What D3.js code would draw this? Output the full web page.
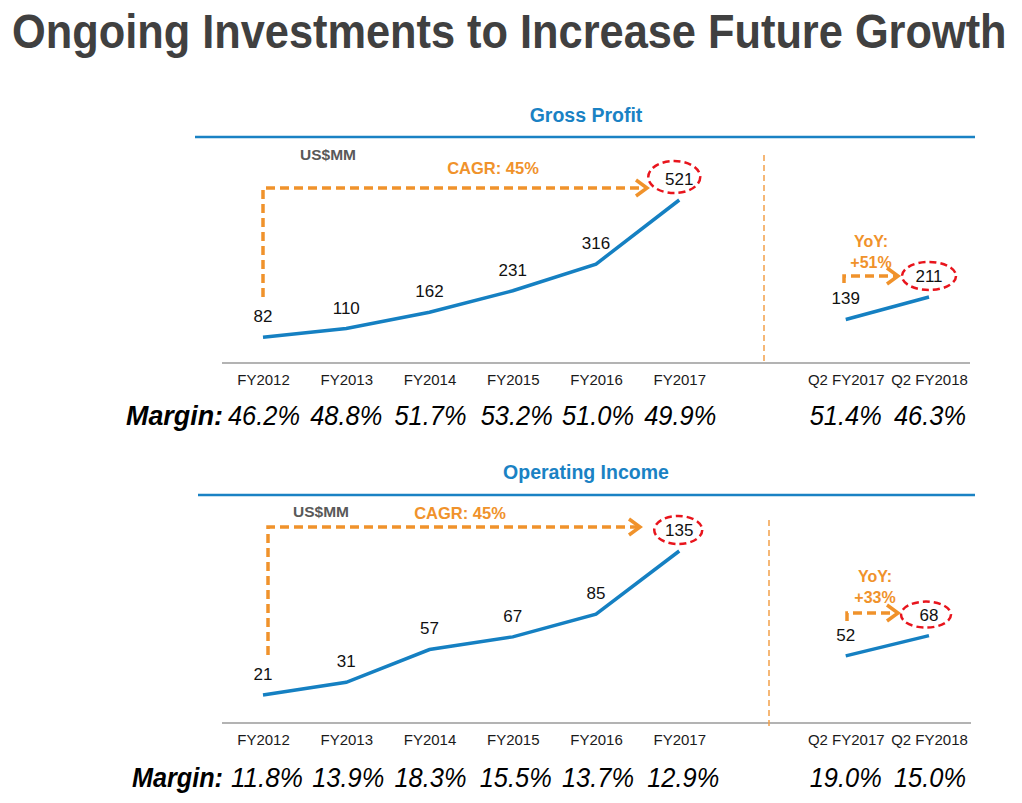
<!DOCTYPE html>
<html>
<head>
<meta charset="utf-8">
<script src="https://cdn.jsdelivr.net/npm/d3@7"></script>
<style>
  html, body { margin: 0; padding: 0; background: #fff; }
  svg { display: block; font-family: "Liberation Sans", Arial, sans-serif; }
</style>
</head>
<body>
<svg id="chart" width="1022" height="803"></svg>
<script>
// ---------- data ----------
const mainTitle = "Ongoing Investments to Increase Future Growth";
const categories = ["FY2012", "FY2013", "FY2014", "FY2015", "FY2016", "FY2017"];
const quarters = ["Q2 FY2017", "Q2 FY2018"];

const grossProfit = [82, 110, 162, 231, 316, 521];
const grossProfitQ = [139, 211];
const grossMargin = [46.2, 48.8, 51.7, 53.2, 51.0, 49.9];
const grossMarginQ = [51.4, 46.3];

const opIncome = [21, 31, 57, 67, 85, 135];
const opIncomeQ = [52, 68];
const opMargin = [11.8, 13.9, 18.3, 15.5, 13.7, 12.9];
const opMarginQ = [19.0, 15.0];

const panelTitles = ["Gross Profit", "Operating Income"];
const cagrLabels = ["CAGR: 45%", "CAGR: 45%"];
const yoyLabels = ["+51%", "+33%"];
const unitLabel = "US$MM";
const marginLabel = "Margin:";

// ---------- layout / style ----------
const BLUE = "#1a82c4";
const LINE_BLUE = "#1580c2";
const ORANGE = "#f0922b";
const RED = "#e8141c";

const panels = [
  {
    title: panelTitles[0], fy: grossProfit, q: grossProfitQ, m: grossMargin, mq: grossMarginQ,
    cagr: cagrLabels[0], yoy: yoyLabels[0],
    titleY: 115, headerY: 137, headerX: [195, 975],
    axisY: 363, axisX: [222, 970],
    yRange: [363, 200],
    sepX: 764, sepY: [155, 362],
    unitPos: [328, 155], cagrTextPos: [493, 168],
    cagrX: 263, cagrYs: [297, 188], cagrEnd: 647,
    ellFY: [-5, -2, 26, 16], ellQ: [0, 0, 27, 14],
    yoyX: 844, yoyYs: [283, 276], yoyEnd: 898, yoyTextPos: [871, 241, 262],
    marginX: 126, marginLen: 97, marginY: 425, mShift: [1, 0, 1, 4, 2, 1, 0, 1]
  },
  {
    title: panelTitles[1], fy: opIncome, q: opIncomeQ, m: opMargin, mq: opMarginQ,
    cagr: cagrLabels[1], yoy: yoyLabels[1],
    titleY: 472, headerY: 495, headerX: [198, 975],
    axisY: 723, axisX: [222, 971],
    yRange: [721.5, 551],
    sepX: 769, sepY: [520, 727],
    unitPos: [321, 512], cagrTextPos: [460, 513],
    cagrX: 268, cagrYs: [655, 527], cagrEnd: 640,
    ellFY: [-1, 0, 24, 14], ellQ: [-3, 0, 25, 13],
    yoyX: 847, yoyYs: [621, 613], yoyEnd: 898, yoyTextPos: [875, 576, 597],
    marginX: 132, marginLen: 91, marginY: 787, mShift: [4, 2, 1, 3, 2, 4, 0, 1]
  }
];

const svg = d3.select("#chart");

// main title (natural text, horizontally condensed to fit)
const titleText = svg.append("text")
  .attr("x", 0).attr("y", 0)
  .attr("font-size", 48).attr("font-weight", "bold")
  .attr("fill", "#404040")
  .text(mainTitle);
const natural = titleText.node().getComputedTextLength();
titleText.attr("transform", `translate(12,48) scale(${995 / natural},1)`);

const x = d3.scalePoint()
  .domain([...categories, "gap", ...quarters])
  .range([263, 929]);

const fmtPct = v => d3.format(".1f")(v) + "%";

function arrowHead(g, xEnd, y) {
  g.append("path")
    .attr("d", `M${xEnd - 11},${y - 8}L${xEnd},${y}L${xEnd - 11},${y + 8}`)
    .attr("fill", "none").attr("stroke", ORANGE)
    .attr("stroke-width", 3.5).attr("stroke-linejoin", "miter");
}

panels.forEach(p => {
  const g = svg.append("g");
  const y = d3.scaleLinear().domain([0, d3.max(p.fy)]).range(p.yRange);

  // panel title + header rule
  g.append("text")
    .attr("x", 586).attr("y", p.titleY).attr("dy", "0.35em")
    .attr("text-anchor", "middle")
    .attr("font-size", 19.5).attr("font-weight", "bold").attr("fill", BLUE)
    .text(p.title);
  g.append("line")
    .attr("x1", p.headerX[0]).attr("x2", p.headerX[1])
    .attr("y1", p.headerY).attr("y2", p.headerY)
    .attr("stroke", BLUE).attr("stroke-width", 2.5);

  // axis rule
  g.append("line")
    .attr("x1", p.axisX[0]).attr("x2", p.axisX[1])
    .attr("y1", p.axisY).attr("y2", p.axisY)
    .attr("stroke", "#b3b3b3").attr("stroke-width", 2);

  // separator
  g.append("line")
    .attr("x1", p.sepX).attr("x2", p.sepX)
    .attr("y1", p.sepY[0]).attr("y2", p.sepY[1])
    .attr("stroke", "#f2a04a").attr("stroke-width", 1.5)
    .attr("stroke-dasharray", "6,4");

  // category axis
  const axis = d3.axisBottom(x)
    .tickValues([...categories, ...quarters])
    .tickSize(0).tickPadding(11);
  const ag = g.append("g")
    .attr("transform", `translate(0,${p.axisY})`)
    .call(axis);
  ag.select(".domain").remove();
  ag.selectAll("text")
    .attr("font-size", 15).attr("fill", "#1a1a1a")
    .attr("font-family", "'Liberation Sans', Arial, sans-serif");

  // lines
  const line = d3.line().x(d => x(d.c)).y(d => y(d.v));
  const fyData = categories.map((c, i) => ({ c, v: p.fy[i] }));
  const qData = quarters.map((c, i) => ({ c, v: p.q[i] }));
  [fyData, qData].forEach(data => {
    g.append("path")
      .datum(data)
      .attr("d", line)
      .attr("fill", "none").attr("stroke", LINE_BLUE)
      .attr("stroke-width", 3.5).attr("stroke-linecap", "butt");
  });

  // value labels
  const allPts = [...fyData, ...qData];
  g.selectAll(".val").data(allPts).join("text")
    .attr("class", "val")
    .attr("x", d => x(d.c)).attr("y", d => y(d.v) - 21).attr("dy", "0.35em")
    .attr("text-anchor", "middle")
    .attr("font-size", 17).attr("fill", "#111")
    .text(d => d.v);

  // highlight ellipses
  const lastFY = fyData[fyData.length - 1];
  const lastQ = qData[qData.length - 1];
  [[lastFY, p.ellFY], [lastQ, p.ellQ]].forEach(([d, e]) => {
    g.append("ellipse")
      .attr("cx", x(d.c) + e[0]).attr("cy", y(d.v) - 21 + e[1])
      .attr("rx", e[2]).attr("ry", e[3])
      .attr("fill", "none").attr("stroke", RED)
      .attr("stroke-width", 2.5).attr("stroke-dasharray", "7,4");
  });

  // unit label
  g.append("text")
    .attr("x", p.unitPos[0]).attr("y", p.unitPos[1]).attr("dy", "0.35em")
    .attr("text-anchor", "middle")
    .attr("font-size", 15.5).attr("font-weight", "bold").attr("fill", "#595959")
    .text(unitLabel);

  // CAGR arrow
  g.append("path")
    .attr("d", `M${p.cagrX},${p.cagrYs[0]}V${p.cagrYs[1]}H${p.cagrEnd - 2}`)
    .attr("fill", "none").attr("stroke", ORANGE)
    .attr("stroke-width", 3.5).attr("stroke-dasharray", "9,5");
  arrowHead(g, p.cagrEnd, p.cagrYs[1]);
  g.append("text")
    .attr("x", p.cagrTextPos[0]).attr("y", p.cagrTextPos[1]).attr("dy", "0.35em")
    .attr("text-anchor", "middle")
    .attr("font-size", 16.5).attr("font-weight", "bold").attr("fill", ORANGE)
    .text(p.cagr);

  // YoY arrow
  g.append("path")
    .attr("d", `M${p.yoyX},${p.yoyYs[0]}V${p.yoyYs[1]}H${p.yoyEnd - 2}`)
    .attr("fill", "none").attr("stroke", ORANGE)
    .attr("stroke-width", 3.5).attr("stroke-dasharray", "9,5");
  arrowHead(g, p.yoyEnd, p.yoyYs[1]);
  g.append("text")
    .attr("x", p.yoyTextPos[0]).attr("y", p.yoyTextPos[1]).attr("dy", "0.35em")
    .attr("text-anchor", "middle")
    .attr("font-size", 16).attr("font-weight", "bold").attr("fill", ORANGE)
    .text("YoY:");
  g.append("text")
    .attr("x", p.yoyTextPos[0]).attr("y", p.yoyTextPos[2]).attr("dy", "0.35em")
    .attr("text-anchor", "middle")
    .attr("font-size", 16).attr("font-weight", "bold").attr("fill", ORANGE)
    .text(p.yoy);

  // margins
  g.append("text")
    .attr("x", p.marginX).attr("y", p.marginY)
    .attr("font-size", 28).attr("font-weight", "bold").attr("font-style", "italic")
    .attr("fill", "#000")
    .attr("textLength", p.marginLen).attr("lengthAdjust", "spacingAndGlyphs")
    .text(marginLabel);
  const mData = [
    ...categories.map((c, i) => ({ c, v: p.m[i] })),
    ...quarters.map((c, i) => ({ c, v: p.mq[i] }))
  ];
  g.selectAll(".mg").data(mData).join("text")
    .attr("class", "mg")
    .attr("x", (d, i) => x(d.c) + p.mShift[i]).attr("y", p.marginY)
    .attr("text-anchor", "middle")
    .attr("font-size", 28).attr("font-style", "italic").attr("fill", "#000")
    .attr("textLength", 72).attr("lengthAdjust", "spacingAndGlyphs")
    .text(d => fmtPct(d.v));
});
</script>
</body>
</html>
